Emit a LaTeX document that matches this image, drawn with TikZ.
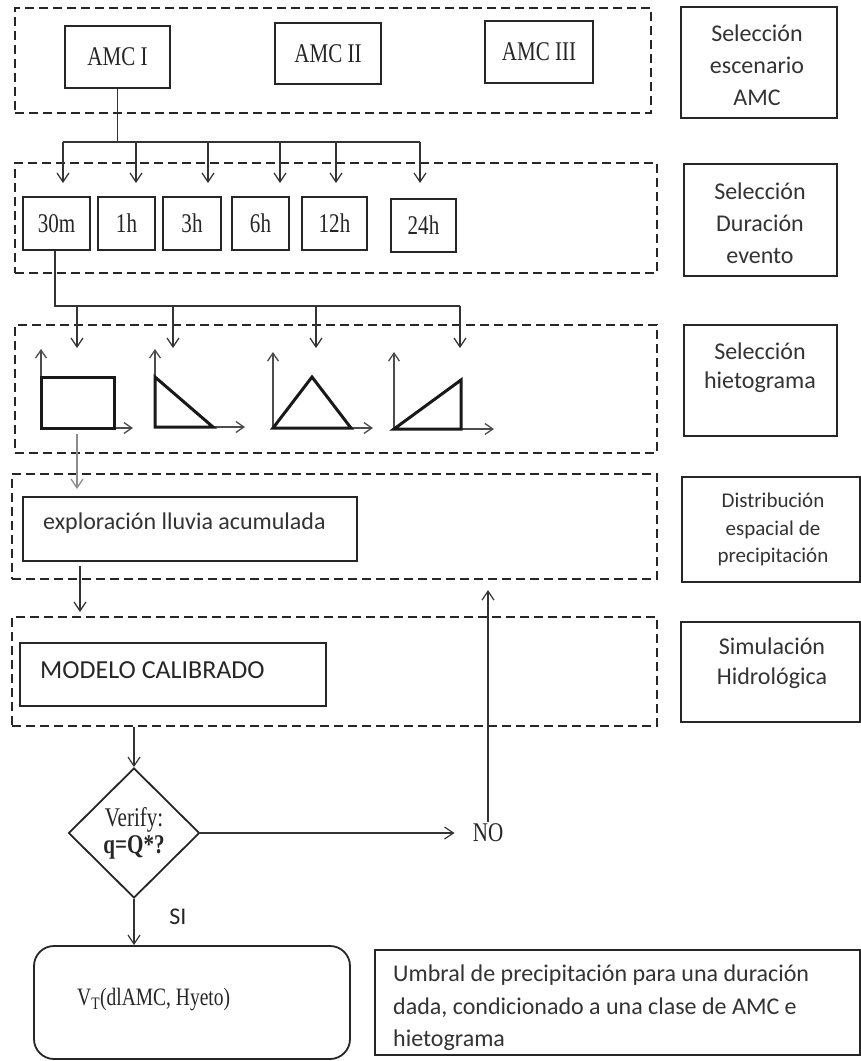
\documentclass[tikz,border=0pt]{standalone}
\usepackage{fontspec}
\setmainfont{Carlito}
\newfontfamily\tnr[FakeStretch=0.78]{Liberation Serif}
\usetikzlibrary{arrows.meta,shapes.geometric}
\begin{document}
\begin{tikzpicture}[x=1pt,y=-1pt,
  grp/.style={draw=black!85,line width=1.6pt,dash pattern=on 9pt off 5pt,inner sep=0pt},
  sbox/.style={draw=black!85,line width=1.8pt,inner sep=0pt},
  lbox/.style={draw=black!85,line width=1.4pt,inner sep=0pt},
  lab/.style={align=center,inner sep=0pt,text=black!80},
  ser/.style={inner sep=0pt,font=\tnr\fontsize{27}{29}\selectfont,text=black!85},
  arr/.style={draw=black!80,line width=1.2pt,-{Straight Barb[length=9pt,width=12pt]}},
  ln/.style={draw=black!80,line width=1.2pt},
  hshape/.style={line width=3pt,draw=black!90,line join=miter},
  haxis/.style={line width=1.3pt,draw=black!70,-{Straight Barb[length=8pt,width=11pt]}}
]
\useasboundingbox (0,0) rectangle (861,1061);
\fill[white] (0,0) rectangle (861,1061);

% ---------- group (dashed) boxes ----------
\node[grp,minimum width=636pt,minimum height=105pt] (g1) at (333,60.5) {};
\node[grp,minimum width=642pt,minimum height=110pt] (g2) at (336,218) {};
\node[grp,minimum width=642pt,minimum height=128pt] (g3) at (336,389) {};
\node[grp,minimum width=645pt,minimum height=105pt] (g4) at (334.5,526.5) {};
\node[grp,minimum width=645pt,minimum height=109pt] (g5) at (334.5,671.5) {};

% ---------- right label boxes ----------
\node[lbox,minimum width=156pt,minimum height=111pt] (L1) at (759,62.5) {};
\node[lab,font=\fontsize{24}{32}\selectfont] (L1t) at (757,65) {Selección\\escenario\\AMC};
\node[lbox,minimum width=153pt,minimum height=112pt] (L2) at (760.5,220) {};
\node[lab,font=\fontsize{24}{32}\selectfont] (L2t) at (760,223) {Selección\\Duración\\evento};
\node[lbox,minimum width=153pt,minimum height=111pt] (L3) at (760.5,380.5) {};
\node[lab,font=\fontsize{24}{29}\selectfont] (L3t) at (760,367.5) {Selección\\hietograma};
\node[lbox,minimum width=178pt,minimum height=105pt] (L4) at (771,529.5) {};
\node[lab,font=\fontsize{21}{27.5}\selectfont] (L4t) at (773,529.5) {Distribución\\espacial de\\precipitación};
\node[lbox,minimum width=179pt,minimum height=100pt] (L5) at (770.5,672) {};
\node[lab,font=\fontsize{24}{30}\selectfont] (L5t) at (772,663) {Simulación\\Hidrológica};

% ---------- AMC boxes ----------
\node[sbox,ser,draw=black!85,inner sep=0pt,minimum width=105pt,minimum height=62pt] (amc1) at (117.5,57) {AMC I};
\node[sbox,ser,draw=black!85,inner sep=0pt,minimum width=106pt,minimum height=61pt] (amc2) at (328,53.5) {AMC II};
\node[sbox,ser,draw=black!85,inner sep=0pt,minimum width=108pt,minimum height=62pt] (amc3) at (539,52) {AMC III};

% ---------- duration boxes ----------
\node[sbox,ser,draw=black!85,minimum width=67pt,minimum height=53pt] (d30) at (56.5,223.5) {30m};
\node[sbox,ser,draw=black!85,minimum width=57pt,minimum height=53pt] (d1) at (126.5,223.5) {1h};
\node[sbox,ser,draw=black!85,minimum width=58pt,minimum height=53pt] (d3) at (192,223.5) {3h};
\node[sbox,ser,draw=black!85,minimum width=57pt,minimum height=53pt] (d6) at (260.5,223.5) {6h};
\node[sbox,ser,draw=black!85,minimum width=65pt,minimum height=53pt] (d12) at (334.5,223.5) {12h};
\node[sbox,ser,draw=black!85,minimum width=65pt,minimum height=53pt] (d24) at (423.5,225.5) {24h};

% AMC I -> durations
\coordinate (j1) at (117.5,142);
\coordinate (b1l) at (63,142);
\coordinate (b1r) at (420,142);
\draw[ln] (amc1.south) -- (j1);
\draw[ln] (b1l) -- (b1r);
\foreach \x [count=\i] in {63,136,208,280,336,420}{
  \coordinate (s\i) at (\x,142);
  \coordinate (e\i) at (\x,183);
  \draw[arr] (s\i) -- (e\i);
}

% 30m -> hyetographs
\coordinate (j2) at (55,306);
\coordinate (b2r) at (460,306);
\draw[ln] (d30.south -| j2) -- (j2) -- (b2r);
\foreach \x [count=\i] in {77,173,316,460}{
  \coordinate (hs\i) at (\x,306);
  \coordinate (he\i) at (\x,348);
  \draw[arr] (hs\i) -- (he\i);
}

% ---------- hyetographs ----------
\draw[haxis] (41,428) -- (41,349);
\draw[haxis] (41,428) -- (133,428);
\draw[hshape] (41,377) rectangle (114,428);
\draw[haxis] (155,427) -- (155,349);
\draw[haxis] (155,427) -- (245,427);
\draw[hshape] (155,377) -- (155,427) -- (213,427) -- cycle;
\draw[haxis] (273,428) -- (273,352);
\draw[haxis] (273,428) -- (373,428);
\draw[hshape] (273,428) -- (312,377) -- (351,428) -- cycle;
\draw[haxis] (394,429) -- (394,352);
\draw[haxis] (394,429) -- (494,429);
\draw[hshape] (394,429) -- (461,380) -- (461,429) -- cycle;

% gray arrow to rainfall exploration
\coordinate (ga) at (77,434);
\coordinate (gb) at (77,489);
\draw[arr,draw=black!45] (ga) -- (gb);

% ---------- exploración ----------
\node[sbox,minimum width=334pt,minimum height=64pt] (exp) at (190,529) {};
\node[lab,anchor=west,font=\fontsize{24}{28}\selectfont] (expt) at (43,523) {exploración lluvia acumulada};
\coordinate (xa) at (80,566);
\coordinate (xb) at (80,612);
\draw[arr] (xa) -- (xb);

% ---------- modelo ----------
\node[sbox,minimum width=306pt,minimum height=63pt] (mod) at (173,674.5) {};
\node[lab,anchor=west,font=\fontsize{26}{30}\selectfont,text=black!85] (modt) at (40,670) {MODELO CALIBRADO};

% ---------- decision ----------
\node[diamond,draw=black!85,line width=1.8pt,minimum width=131pt,minimum height=130pt,inner sep=0pt,align=center,font=\tnr\fontsize{27}{27}\selectfont,text=black!85] (dia) at (134,833) {Verify:\\\textbf{q=Q*?}};
\draw[arr] (dia.north |- g5.south) -- (dia.north);
\node[ser,inner sep=2pt] (no) at (488,833) {NO};
\draw[arr,shorten >=16pt] (dia.east) -- (no.west);
\coordinate (upend) at (488,590);
\draw[arr] (no.north) -- (upend);
\node[lab,font=\fontsize{24}{28}\selectfont,text=black!85] (si) at (178,917) {SI};

% ---------- result ----------
\node[draw=black!85,line width=1.8pt,rounded corners=20pt,minimum width=316pt,minimum height=113pt] (vt) at (192,1002.5) {};
\node[ser,anchor=west,font=\tnr\fontsize{25}{27}\selectfont] (vtt) at (77,1000) {V\textsubscript{T}(dlAMC, Hyeto)};
\draw[arr] (dia.south) -- (dia.south |- vt.north);

\node[lbox,minimum width=485pt,minimum height=105pt] (ub) at (617.5,1002.5) {};
\node[lab,align=left,anchor=west,font=\fontsize{24}{32.5}\selectfont] (ubt) at (393,1008) {Umbral de precipitación para una duración\\dada, condicionado a una clase de AMC e\\hietograma};
\end{tikzpicture}
\end{document}
